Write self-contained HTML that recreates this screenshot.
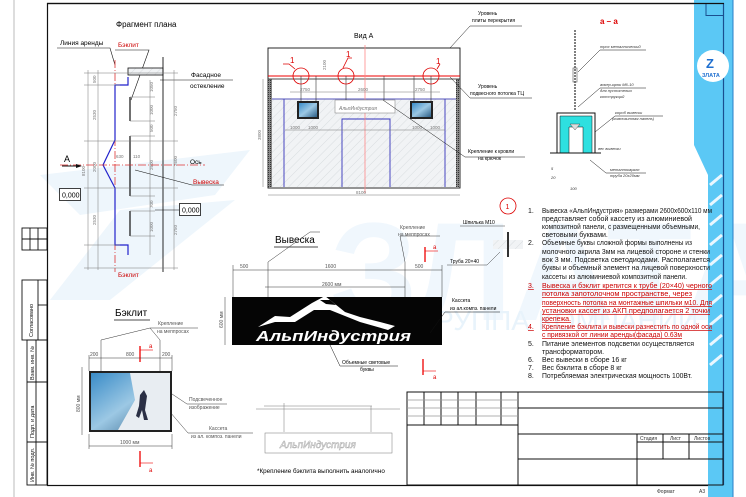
<!DOCTYPE html>
<html><head><meta charset="utf-8"><style>
html,body{margin:0;padding:0;background:#fff}
svg{display:block}
text{font-family:"Liberation Sans",sans-serif}
</style></head><body>
<svg width="746" height="497" viewBox="0 0 746 497" xmlns="http://www.w3.org/2000/svg">
<defs>
<pattern id="hat" width="6" height="6" patternUnits="userSpaceOnUse" patternTransform="rotate(45)"><rect width="6" height="6" fill="#f1f3f5"/><line x1="0" y1="0" x2="0" y2="6" stroke="#c9ced3" stroke-width="0.6"/></pattern>
<pattern id="dk" width="2" height="2" patternUnits="userSpaceOnUse"><rect width="2" height="2" fill="#888"/><rect width="1" height="1" fill="#333"/></pattern>
<linearGradient id="sky" x1="0" y1="0" x2="1" y2="1"><stop offset="0" stop-color="#3a8cc8"/><stop offset="0.5" stop-color="#9cc8e4"/><stop offset="1" stop-color="#2d5f86"/></linearGradient>
</defs>
<!-- watermark -->
<g fill="#eef6fc">
<polygon points="40,175 250,150 215,195 80,215"/>
<polygon points="120,210 235,200 110,300 50,300"/>
<text x="330" y="320" font-size="140" font-weight="bold" fill="#f0f7fd">ЗЛАТА</text>
</g>
<text x="420" y="330" font-size="28" fill="#e8f3fb">ГРУППА КОМПАНИЙ</text>
<line x1="14" y1="0" x2="14" y2="497" stroke="#bbb" stroke-width="1"/>
<!-- main frame -->
<rect x="47.5" y="3.5" width="676" height="482" fill="none" stroke="#111" stroke-width="1.2"/>
<!-- left stamp -->
<g stroke="#111" stroke-width="0.9" fill="none">
<rect x="22" y="228" width="25" height="22"/><line x1="30" y1="228" x2="30" y2="250"/><line x1="38" y1="228" x2="38" y2="250"/><line x1="22" y1="239" x2="47" y2="239"/>
<rect x="22" y="280" width="25" height="60"/><line x1="38" y1="280" x2="38" y2="340"/><line x1="38" y1="305" x2="47" y2="305"/>
<rect x="27" y="340" width="20" height="145"/><line x1="36" y1="340" x2="36" y2="485"/><line x1="27" y1="382" x2="47" y2="382"/><line x1="27" y1="442" x2="47" y2="442"/>
</g>
<g font-size="5.5" fill="#111">
<text transform="translate(33,337) rotate(-90)">Согласовано</text>
<text transform="translate(34,380) rotate(-90)">Взам. инв. №</text>
<text transform="translate(34,438) rotate(-90)">Подп. и дата</text>
<text transform="translate(34,482) rotate(-90)">Инв. № подл.</text>
</g>

<!-- ===== Fragment plana ===== -->
<text x="116" y="27" font-size="8">Фрагмент плана</text>
<text x="60" y="45" font-size="6.5">Линия аренды</text>
<polyline points="57,48 110,48 115,65" fill="none" stroke="#111" stroke-width="0.6"/>
<text x="118" y="47" font-size="6.5" fill="#c00">Бэклит</text>
<polyline points="115,50 149,50 131,100" fill="none" stroke="#111" stroke-width="0.6"/>
<line x1="115" y1="60" x2="115" y2="272" stroke="#d33" stroke-width="0.8" stroke-dasharray="8,2,1,2"/>
<polyline points="128,77 128,85 115,85 115,140 103,165 115,188 115,245 128,245 128,255" fill="none" stroke="#22c" stroke-width="1.2"/>
<rect x="128" y="68" width="35" height="7" fill="url(#hat)" stroke="#111" stroke-width="0.8"/>
<line x1="163" y1="57" x2="163" y2="272" stroke="#111" stroke-width="0.9"/>
<text x="191" y="77" font-size="6.5">Фасадное</text>
<text x="190" y="88" font-size="6.5">остекление</text>
<line x1="160" y1="80" x2="233" y2="80" stroke="#111" stroke-width="0.6"/>
<g stroke="#111" stroke-width="1.2"><line x1="130" y1="97" x2="130" y2="121"/><line x1="130" y1="136" x2="130" y2="196"/><line x1="130" y1="211" x2="130" y2="236"/></g>
<g stroke="#777" stroke-width="0.5">
<line x1="88" y1="70" x2="88" y2="270"/><line x1="98" y1="70" x2="98" y2="270"/><line x1="150" y1="80" x2="150" y2="255"/><line x1="174" y1="70" x2="174" y2="270"/>
<line x1="84" y1="73" x2="178" y2="73"/><line x1="84" y1="85" x2="120" y2="85"/><line x1="84" y1="141" x2="178" y2="141"/><line x1="84" y1="188" x2="178" y2="188"/><line x1="84" y1="245" x2="120" y2="245"/><line x1="84" y1="268" x2="178" y2="268"/>
<line x1="130" y1="97" x2="155" y2="97"/><line x1="130" y1="121" x2="155" y2="121"/><line x1="130" y1="136" x2="155" y2="136"/><line x1="130" y1="196" x2="155" y2="196"/><line x1="130" y1="211" x2="155" y2="211"/><line x1="130" y1="236" x2="155" y2="236"/>
</g>
<g font-size="4.5" fill="#777">
<text transform="translate(85,176) rotate(-90)">8100</text>
<text transform="translate(96,83) rotate(-90)">500</text><text transform="translate(96,120) rotate(-90)">2530</text><text transform="translate(96,172) rotate(-90)">2000</text><text transform="translate(96,225) rotate(-90)">2530</text>
<text transform="translate(153,92) rotate(-90)">1050</text><text transform="translate(153,115) rotate(-90)">1000</text><text transform="translate(153,132) rotate(-90)">500</text><text transform="translate(153,170) rotate(-90)">2600</text><text transform="translate(153,208) rotate(-90)">700</text><text transform="translate(153,232) rotate(-90)">1000</text>
<text transform="translate(177,116) rotate(-90)">2750</text><text transform="translate(177,166) rotate(-90)">2600</text><text transform="translate(177,235) rotate(-90)">2750</text>
<text x="116" y="158">630</text><text x="133" y="158">110</text>
</g>
<line x1="60" y1="165" x2="205" y2="165" stroke="#d33" stroke-width="0.8" stroke-dasharray="8,2,1,2"/>
<text x="64" y="162" font-size="9">А</text>
<line x1="62" y1="166" x2="80" y2="166" stroke="#111" stroke-width="1"/><polygon points="82,166 76,164 76,168" fill="#111"/>
<text x="190" y="164" font-size="6.5">Ось</text>
<text x="193" y="184" font-size="6.5" fill="#c00">Вывеска</text>
<polyline points="224,185 192,185 135,170" fill="none" stroke="#111" stroke-width="0.6"/>
<rect x="59.5" y="188.5" width="21" height="12" fill="#fff" stroke="#111" stroke-width="0.8"/><text x="62" y="197.5" font-size="7">0,000</text>
<rect x="179.5" y="203.5" width="21" height="12" fill="#fff" stroke="#111" stroke-width="0.8"/><text x="182" y="212.5" font-size="7">0,000</text>
<line x1="155" y1="210" x2="179" y2="210" stroke="#111" stroke-width="0.6"/>
<text x="118" y="277" font-size="6.5" fill="#c00">Бэклит</text>

<!-- ===== Vid A ===== -->
<text x="354" y="38" font-size="7">Вид А</text>
<rect x="268" y="99" width="192" height="88" fill="url(#hat)"/>
<rect x="268" y="48" width="192" height="140" fill="none" stroke="#111" stroke-width="0.9"/>
<rect x="268" y="79" width="4" height="108" fill="url(#dk)"/><rect x="456" y="79" width="4" height="108" fill="url(#dk)"/>
<line x1="268" y1="79" x2="460" y2="79" stroke="#111" stroke-width="0.8"/>
<line x1="268" y1="76" x2="460" y2="76" stroke="#e00" stroke-width="1.1"/>
<line x1="272" y1="99" x2="456" y2="99" stroke="#55b" stroke-width="1"/>
<g stroke="#33b" stroke-width="0.9" fill="none"><line x1="284" y1="99" x2="284" y2="187"/><line x1="445" y1="99" x2="445" y2="187"/><polyline points="342,187 342,119 390,119 390,187"/></g>
<line x1="365" y1="45" x2="365" y2="193" stroke="#f88" stroke-width="0.8"/>
<rect x="297" y="101" width="22" height="18" fill="#222"/><rect x="299" y="103" width="18" height="14" fill="url(#sky)"/>
<rect x="410" y="101" width="23" height="18" fill="#222"/><rect x="412" y="103" width="19" height="14" fill="url(#sky)"/>
<rect x="335" y="100" width="60" height="13" fill="#fff" stroke="#777" stroke-width="0.5"/>
<text x="339" y="110" font-size="5" font-style="italic" fill="#777">АльпИндустрия</text>
<g stroke="#333" stroke-width="0.6"><line x1="301" y1="76" x2="301" y2="101"/><line x1="316" y1="76" x2="316" y2="101"/><line x1="346" y1="76" x2="346" y2="100"/><line x1="384" y1="76" x2="384" y2="100"/><line x1="414" y1="76" x2="414" y2="101"/><line x1="431" y1="76" x2="431" y2="101"/></g>
<g fill="none" stroke="#d00" stroke-width="0.8"><circle cx="301" cy="76" r="8"/><circle cx="346" cy="76" r="8"/><circle cx="431" cy="76" r="8"/><polyline points="295,69 289,64 283,64"/><polyline points="343,68 348,58 352,58"/><polyline points="437,69 440,64"/></g>
<g fill="#d00" font-size="8"><text x="290" y="63">1</text><text x="346" y="57">1</text><text x="436" y="64">1</text></g>
<g stroke="#777" stroke-width="0.5"><line x1="263" y1="79" x2="263" y2="187"/><line x1="268" y1="195" x2="460" y2="195"/><line x1="290" y1="92" x2="440" y2="92"/><line x1="285" y1="130" x2="445" y2="130"/></g>
<g font-size="4.5" fill="#777"><text x="356" y="194">8100</text><text x="300" y="91">2750</text><text x="358" y="91">2600</text><text x="415" y="91">2750</text><text x="290" y="129">1000</text><text x="308" y="129">1000</text><text x="412" y="129">1000</text><text x="430" y="129">1000</text><text transform="translate(261,140) rotate(-90)">3800</text><text transform="translate(326,70) rotate(-90)">2100</text></g>
<text x="478" y="15" font-size="5">Уровень</text><text x="472" y="22" font-size="5">плиты перекрытия</text>
<polyline points="450,48 470,26 522,26" fill="none" stroke="#111" stroke-width="0.5"/>
<text x="478" y="88" font-size="5">Уровень</text><text x="470" y="95" font-size="5">подвесного потолка ТЦ</text>
<polyline points="450,77 470,98 532,98" fill="none" stroke="#111" stroke-width="0.5"/>
<text x="468" y="153" font-size="5">Крепление к кровли</text><text x="478" y="160" font-size="5">на крючок</text>
<polyline points="383,100 465,157 525,157" fill="none" stroke="#111" stroke-width="0.5"/>

<!-- ===== a-a section ===== -->
<text x="600" y="24" font-size="8" fill="#d00" font-weight="bold">а – а</text>
<line x1="575" y1="30" x2="575" y2="110" stroke="#555" stroke-width="1.5" stroke-dasharray="2,1"/>
<rect x="573" y="68" width="4" height="14" fill="none" stroke="#555" stroke-width="0.6"/>
<rect x="557" y="113" width="38" height="40" fill="#fff" stroke="#111" stroke-width="1"/>
<path d="M560,116 H592 V153 H583 V127 H569 V153 H560 Z" fill="#2ee0e0" stroke="#111" stroke-width="0.5"/>
<polygon points="570,124 580,124 575,130" fill="#ddd" stroke="#333" stroke-width="0.4"/>
<line x1="550" y1="153" x2="601" y2="153" stroke="#111" stroke-width="1"/>
<g font-size="4" font-style="italic" fill="#333">
<text x="600" y="48">трос металлический</text><text x="600" y="86">анкер-крюк М6-10</text><text x="600" y="92">для пустотелых</text><text x="600" y="98">конструкций</text>
<text x="615" y="114">короб вывески</text><text x="612" y="120">(композитная панель)</text><text x="598" y="150">вес вывески</text>
<text x="610" y="171">металлокаркас</text><text x="610" y="177">труба 20х20мм</text><text x="551" y="170">5</text><text x="551" y="179">20</text><text x="570" y="190">100</text></g>
<g stroke="#111" stroke-width="0.5" fill="none"><polyline points="578,72 600,50 646,50"/><polyline points="578,107 600,88 646,88"/><polyline points="595,132 615,116 663,116"/><polyline points="590,160 606,173 646,173"/></g>

<!-- ===== right blue strip ===== -->
<polygon points="694,0 733,0 733,497 708,497 708,175 694,145" fill="#5bc8f5"/>
<g stroke="#eaf7ff" stroke-width="3"><line x1="710" y1="185" x2="722" y2="175"/><line x1="710" y1="205" x2="722" y2="195"/><line x1="710" y1="225" x2="722" y2="215"/><line x1="710" y1="245" x2="722" y2="235"/><line x1="710" y1="265" x2="722" y2="255"/><line x1="710" y1="285" x2="722" y2="275"/><line x1="710" y1="305" x2="722" y2="295"/><line x1="710" y1="325" x2="722" y2="315"/><line x1="710" y1="345" x2="722" y2="335"/><line x1="710" y1="365" x2="722" y2="355"/></g>
<line x1="723.5" y1="3" x2="723.5" y2="485" stroke="#1a4f90" stroke-width="1.2"/>
<line x1="733" y1="0" x2="733" y2="497" stroke="#2a7fc8" stroke-width="1"/>
<rect x="706" y="3.5" width="17.5" height="12" fill="none" stroke="#1a4f90" stroke-width="1"/>
<line x1="47" y1="3.5" x2="724" y2="3.5" stroke="#111" stroke-width="1.2"/>
<circle cx="713" cy="66" r="16" fill="#fff"/>
<text x="706" y="68" font-size="13" font-weight="bold" fill="#1e6fd0">Z</text>
<text x="702" y="77" font-size="5.5" font-weight="bold" fill="#1e6fd0">ЗЛАТА</text>

<!-- ===== notes ===== -->
<circle cx="508" cy="206" r="8" fill="none" stroke="#d00" stroke-width="0.8"/><text x="505.5" y="209" font-size="7" fill="#d00">1</text>
<text x="463" y="224" font-size="5">Шпилька М10</text><line x1="460" y1="226" x2="505" y2="226" stroke="#111" stroke-width="0.4"/>
<rect x="493" y="240" width="30" height="9" fill="url(#hat)"/><line x1="508" y1="232" x2="508" y2="257" stroke="#333" stroke-width="2"/>
<text x="450" y="263" font-size="5">Труба 20×40</text><polyline points="447,265 487,265 500,252" fill="none" stroke="#111" stroke-width="0.4"/>
<g font-size="7" fill="#111">
<text x="528" y="213">1.</text><text x="542" y="213" textLength="170" lengthAdjust="spacingAndGlyphs">Вывеска «АльпИндустрия» размерами 2600х600х110 мм</text>
<text x="542" y="221" textLength="150" lengthAdjust="spacingAndGlyphs">представляет собой кассету из алюминиевой</text>
<text x="542" y="229" textLength="158" lengthAdjust="spacingAndGlyphs">композитной панели, с размещенными объемными,</text>
<text x="542" y="237">световыми буквами.</text>
<text x="528" y="245">2.</text><text x="542" y="245" textLength="150" lengthAdjust="spacingAndGlyphs">Объемные буквы сложной формы выполнены из</text>
<text x="542" y="254" textLength="168" lengthAdjust="spacingAndGlyphs">молочного акрила 3мм на лицевой стороне и стенки</text>
<text x="542" y="262" textLength="168" lengthAdjust="spacingAndGlyphs">вок 3 мм. Подсветка светодиодами. Располагается</text>
<text x="542" y="270" textLength="168" lengthAdjust="spacingAndGlyphs">буквы и объемный элемент на лицевой поверхности</text>
<text x="542" y="279" textLength="145" lengthAdjust="spacingAndGlyphs">кассеты из алюминиевой композитной панели.</text>
<g fill="#c00" text-decoration="underline">
<text x="528" y="288">3.</text><text x="542" y="288" textLength="170" lengthAdjust="spacingAndGlyphs">Вывеска и бэклит крепится к трубе (20×40) черного</text>
<text x="542" y="296" textLength="150" lengthAdjust="spacingAndGlyphs">потолка запотолочном пространстве, через</text>
<text x="542" y="305" textLength="170" lengthAdjust="spacingAndGlyphs">поверхность потолка на монтажные шпильки м10. Для</text>
<text x="542" y="313" textLength="168" lengthAdjust="spacingAndGlyphs">установки кассет из АКП предполагается 2 точки</text>
<text x="542" y="321">крепежа.</text>
<text x="528" y="329">4.</text><text x="542" y="329" textLength="170" lengthAdjust="spacingAndGlyphs">Крепление бэклита и вывески разнестить по одной оси</text>
<text x="542" y="337" textLength="140" lengthAdjust="spacingAndGlyphs">с привязкой от линии аренды(фасада) 0.63м</text>
</g>
<text x="528" y="346">5.</text><text x="542" y="346" textLength="152" lengthAdjust="spacingAndGlyphs">Питание элементов подсветки осуществляется</text>
<text x="542" y="354">трансформатором.</text>
<text x="528" y="362">6.</text><text x="542" y="362">Вес вывески в сборе 16 кг</text>
<text x="528" y="370">7.</text><text x="542" y="370">Вес бэклита в сборе 8 кг</text>
<text x="528" y="378">8.</text><text x="542" y="378" textLength="150" lengthAdjust="spacingAndGlyphs">Потребляемая электрическая мощность 100Вт.</text>
</g>

<!-- ===== Vyveska ===== -->
<text x="275" y="243" font-size="10">Вывеска</text><line x1="274" y1="247" x2="318" y2="247" stroke="#111" stroke-width="0.7"/>
<g stroke="#333" stroke-width="0.5" fill="none">
<line x1="233" y1="270" x2="442" y2="270"/><line x1="233" y1="265" x2="233" y2="297"/><line x1="442" y1="265" x2="442" y2="297"/>
<line x1="268" y1="262" x2="268" y2="297"/><line x1="405" y1="262" x2="405" y2="297"/>
<line x1="265" y1="287" x2="405" y2="287"/>
<polyline points="268,262 310,232 320,232"/><polyline points="405,262 400,236 440,236"/>
<line x1="225" y1="297" x2="225" y2="345"/>
</g>
<g font-size="5" fill="#555"><text x="240" y="268">500</text><text x="325" y="268">1600</text><text x="415" y="268">500</text><text x="322" y="286">2600 мм</text><text transform="translate(223,328) rotate(-90)">600 мм</text>
<text x="400" y="229">Крепление</text><text x="398" y="236">на меппросах</text></g>
<g stroke="#e00" stroke-width="1.3"><line x1="425" y1="247" x2="425" y2="262"/><line x1="140" y1="346" x2="140" y2="362"/><line x1="140" y1="451" x2="140" y2="467"/><line x1="423" y1="359" x2="423" y2="375"/></g>
<g stroke="#e00" stroke-width="0.6"><line x1="425" y1="251" x2="438" y2="251"/><line x1="140" y1="350" x2="153" y2="350"/><line x1="140" y1="463" x2="153" y2="463"/><line x1="423" y1="371" x2="436" y2="371"/></g>
<g font-size="6" fill="#d00"><text x="433" y="249">а</text><text x="149" y="348">а</text><text x="149" y="472">а</text><text x="433" y="379">а</text></g>
<rect x="232" y="297" width="210" height="48" fill="#050505"/>
<path d="M258,327 L275,316 L290,317 L312,303 L325,296 L345,312 L360,317 L380,322 L395,326 L388,330 L360,322 L330,310 L314,310 L295,322 L275,322 Z" fill="#fff"/>
<path d="M320,300 L330,300 L336,305 L326,304 Z" fill="#050505"/>
<text x="256" y="341" font-size="15" font-weight="bold" font-style="italic" fill="#fff" textLength="155" lengthAdjust="spacingAndGlyphs">АльпИндустрия</text>
<text x="452" y="302" font-size="5">Кассета</text><text x="450" y="310" font-size="5">из ал.компз. панели</text>
<polyline points="430,333 445,312 500,312" fill="none" stroke="#111" stroke-width="0.5"/>
<text x="342" y="364" font-size="5">Объемные световые</text><text x="360" y="371" font-size="5">буквы</text>
<polyline points="330,345 340,366 398,366" fill="none" stroke="#111" stroke-width="0.5"/>

<!-- ===== Baklit ===== -->
<text x="115" y="316" font-size="10">Бэклит</text><line x1="114" y1="320" x2="150" y2="320" stroke="#111" stroke-width="0.7"/>
<g stroke="#333" stroke-width="0.5" fill="none">
<polyline points="101,371 101,340 150,328 160,340 160,371"/><line x1="150" y1="328" x2="198" y2="328"/>
<line x1="89" y1="358" x2="172" y2="358"/><line x1="89" y1="355" x2="89" y2="371"/><line x1="172" y1="355" x2="172" y2="371"/>
<line x1="82" y1="367" x2="82" y2="435"/><line x1="89" y1="446" x2="172" y2="446"/><line x1="89" y1="434" x2="89" y2="449"/><line x1="172" y1="434" x2="172" y2="449"/>
<polyline points="166,390 187,404 227,404"/><polyline points="170,412 188,433 253,433"/>
</g>
<g font-size="5" fill="#555"><text x="158" y="325">Крепление</text><text x="157" y="333">на меппросах</text>
<text x="90" y="356">200</text><text x="126" y="356">800</text><text x="162" y="356">200</text><text x="120" y="444">1000 мм</text><text transform="translate(80,412) rotate(-90)">800 мм</text>
<text x="189" y="401">Подсвеченное</text><text x="189" y="409">изображение</text><text x="209" y="430">Кассета</text><text x="191" y="438">из ал. композ. панели</text></g>
<rect x="89" y="371" width="83" height="61" fill="#222"/>
<rect x="91" y="373" width="79" height="57" fill="url(#sky)"/>
<polygon points="130,373 170,373 170,430 118,430 135,400" fill="#e8edf2"/>
<path d="M140,395 l4,-5 l3,6 l-2,14 l3,10 l-4,0 l-2,-10 l-3,8 l-3,-2 l3,-10 Z" fill="#2a2f45"/>
<!-- small sketch -->
<g stroke="#777" stroke-width="0.5" fill="none">
<line x1="256" y1="409" x2="400" y2="409"/><line x1="264" y1="406" x2="372" y2="406"/>
<line x1="284" y1="403" x2="284" y2="432"/><line x1="371" y1="406" x2="371" y2="432"/>
<rect x="265" y="433" width="127" height="20"/>
</g>
<text x="280" y="448" font-size="10" font-style="italic" fill="none" stroke="#aaa" stroke-width="0.5">АльпИндустрия</text>
<text x="257" y="473" font-size="6.3">*Крепление бэклита выполнить аналогично</text>

<!-- ===== title block ===== -->
<g stroke="#111" stroke-width="1" fill="none">
<rect x="407" y="392" width="316" height="93"/>
<line x1="518" y1="392" x2="518" y2="485"/>
<line x1="518" y1="408" x2="723" y2="408"/><line x1="407" y1="425" x2="518" y2="425"/>
<line x1="518" y1="434" x2="723" y2="434"/><line x1="518" y1="459" x2="723" y2="459"/>
<line x1="637" y1="434" x2="637" y2="485"/><line x1="663" y1="434" x2="663" y2="459"/><line x1="689" y1="434" x2="689" y2="459"/><line x1="637" y1="442" x2="723" y2="442"/>
<line x1="424" y1="392" x2="424" y2="425"/><line x1="441" y1="392" x2="441" y2="425"/><line x1="458" y1="392" x2="458" y2="425"/><line x1="476" y1="392" x2="476" y2="425"/><line x1="501" y1="392" x2="501" y2="425"/>
</g>
<g stroke="#999" stroke-width="0.8"><line x1="407" y1="400" x2="518" y2="400"/><line x1="407" y1="408" x2="518" y2="408"/><line x1="407" y1="416" x2="518" y2="416"/></g>
<g font-size="5" fill="#333"><text x="640" y="440">Стадия</text><text x="670" y="440">Лист</text><text x="694" y="440">Листов</text><text x="657" y="493">Формат</text><text x="699" y="493">А3</text></g>
</svg>
</body></html>
